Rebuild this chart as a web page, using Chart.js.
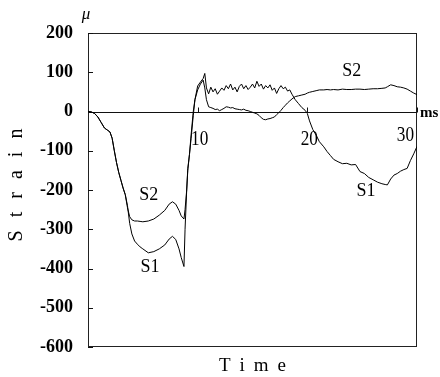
<!DOCTYPE html>
<html>
<head>
<meta charset="utf-8">
<script src="https://cdn.jsdelivr.net/npm/chart.js"></script>
<style>
html,body{margin:0;padding:0;background:#fff;}
canvas{display:block;}
</style>
</head>
<body>
<canvas id="c" width="440" height="377"></canvas>
<script>
// time in ms
const times = [
  0,0.3,0.6,0.9,1.2,1.5,1.8,2.0,2.2,2.4,
  2.6,2.8,3.0,3.2,3.4,3.6,3.8,4.0,4.25,4.5,
  4.75,5.0,5.5,6.0,6.5,7.0,7.4,7.7,8.0,8.3,
  8.5,8.75,8.85,9.0,9.1,9.25,9.4,9.6,9.75,10.0,
  10.25,10.5,10.65,
  10.8,11.0,11.2,11.4,11.6,11.8,12.0,12.2,12.4,12.6,
  12.8,13.0,13.2,13.4,13.6,13.8,14.0,14.2,14.4,14.6,
  14.8,15.0,15.2,15.4,15.6,15.8,16.0,16.2,16.4,16.6,
  16.8,17.0,17.2,17.4,17.6,17.8,18.0,18.2,18.4,18.6,
  18.9,19.2,19.5,19.8,20.0,20.2,20.5,20.8,21.1,21.5,
  21.8,22.1,22.4,22.8,23.2,23.6,24.0,24.4,24.8,25.2,
  25.6,26.0,26.4,26.8,27.1,27.3,27.6,27.9,28.2,28.5,
  28.8,29.1,29.4,29.7,30.0
];
// strain S1 (micro)
const s1 = [
  0,-1,-5,-14,-28,-42,-48,-52,-68,-100,
  -130,-155,-175,-195,-212,-240,-285,-312,-330,-338,
  -345,-350,-360,-357,-350,-340,-325,-318,-326,-350,
  -372,-395,-300,-200,-145,-110,-69,-10,30,65,
  75,84,97,
  60,45,62,50,58,44,52,60,54,66,
  58,70,55,62,50,64,70,58,66,56,
  62,70,60,77,64,70,57,66,60,68,
  54,60,46,58,66,58,62,52,55,44,
  30,20,10,3,-5,-24,-46,-60,-77,-90,
  -102,-112,-122,-128,-133,-132,-136,-135,-153,-158,
  -168,-174,-180,-184,-186,-187,-172,-162,-158,-152,
  -148,-145,-125,-108,-89
];
// strain S2 (micro)
const s2 = [
  0,-1,-5,-14,-28,-42,-48,-52,-68,-100,
  -130,-155,-175,-195,-212,-245,-268,-276,-279,-279,
  -280,-281,-279,-274,-264,-252,-236,-230,-236,-252,
  -266,-274,-250,-200,-150,-110,-60,0,30,55,
  70,80,60,
  30,12,10,8,5,6,2,5,8,12,
  11,9,10,7,6,5,4,6,3,2,
  0,-2,-4,-6,-10,-16,-20,-21,-19,-18,
  -16,-14,-8,-3,3,10,16,22,27,32,
  38,40,42,44,47,49,51,53,55,55,
  56,55,56,55,57,56,56,57,57,56,
  57,58,58,59,60,63,68,66,63,62,
  60,57,52,47,43
];
const xTickLabels = [10, 20, 30];
const yMin = -600, yMax = 200, yStep = 100;
const seriesNames = ['S1', 'S2'];

const serif = '"Liberation Serif", "DejaVu Serif", serif';

function spacedText(ctx, str, cx, cy, gap) {
  const chars = str.split('');
  const widths = chars.map(c => ctx.measureText(c).width);
  const total = widths.reduce((a, b) => a + b, 0) + gap * (chars.length - 1);
  let x = cx - total / 2;
  ctx.textAlign = 'left';
  chars.forEach((c, i) => { ctx.fillText(c, x, cy); x += widths[i] + gap; });
}

const decor = {
  id: 'decor',
  beforeDatasetsDraw(chart) {
    const {ctx, chartArea: a, scales: {x, y}} = chart;
    ctx.save();
    ctx.strokeStyle = '#222';
    ctx.lineWidth = 1;
    ctx.strokeRect(Math.round(a.left) + 0.5, Math.round(a.top) + 0.5,
                   Math.round(a.right - a.left) - 1, Math.round(a.bottom - a.top) - 1);
    // zero line
    const y0 = Math.round(y.getPixelForValue(0)) + 0.5;
    ctx.strokeStyle = '#111';
    ctx.beginPath(); ctx.moveTo(a.left, y0); ctx.lineTo(a.right, y0); ctx.stroke();
    // inner y ticks
    ctx.beginPath();
    for (let v = yMin; v <= yMax; v += yStep) {
      const py = Math.round(y.getPixelForValue(v)) + 0.5;
      ctx.moveTo(a.left, py); ctx.lineTo(a.left + 5, py);
    }
    // x ticks on zero line
    xTickLabels.forEach(t => {
      const px = Math.round(x.getPixelForValue(t)) + 0.5;
      ctx.moveTo(px, y0); ctx.lineTo(px, y0 - 5);
    });
    ctx.stroke();
    ctx.restore();
  },
  afterDraw(chart) {
    const {ctx, chartArea: a, scales: {x, y}} = chart;
    const y0 = y.getPixelForValue(0);
    ctx.save();
    ctx.fillStyle = '#000';
    ctx.textBaseline = 'middle';
    // x tick labels on the zero line
    ctx.font = '21px ' + serif;
    xTickLabels.forEach((t, i) => {
      let px = x.getPixelForValue(t);
      let align = 'center';
      let dx = 2;
      if (i === xTickLabels.length - 1) { px = a.right - 3; align = 'right'; dx = 0; }
      ctx.save();
      ctx.translate(px + dx, y0 + (i === xTickLabels.length - 1 ? 24 : 28));
      ctx.scale(0.82, 1);
      ctx.textAlign = align;
      ctx.fillText(String(t), 0, 0);
      ctx.restore();
    });
    // unit ms
    ctx.font = 'bold 15px ' + serif;
    ctx.textAlign = 'left';
    ctx.fillText('ms', a.right + 3, y0 + 2);
    // micro sign
    ctx.font = 'italic 17px ' + serif;
    ctx.textAlign = 'center';
    ctx.fillText('\u03bc', a.left - 2, a.top - 18);
    // series labels
    ctx.font = '18px ' + serif;
    ctx.textAlign = 'center';
    ctx.fillText(seriesNames[1], x.getPixelForValue(5.55), y.getPixelForValue(-213));
    ctx.fillText(seriesNames[0], x.getPixelForValue(5.65), y.getPixelForValue(-396));
    ctx.fillText(seriesNames[1], x.getPixelForValue(24.05), y.getPixelForValue(102));
    ctx.fillText(seriesNames[0], x.getPixelForValue(25.35), y.getPixelForValue(-204));
    // axis titles
    ctx.font = '19px ' + serif;
    spacedText(ctx, 'Time', (a.left + a.right) / 2, a.bottom + 19, 9);
    ctx.save();
    ctx.translate(17, (a.top + a.bottom) / 2 - 5);
    ctx.rotate(-Math.PI / 2);
    ctx.font = '20px ' + serif;
    spacedText(ctx, 'Strain', 0, 0, 13);
    ctx.restore();
    ctx.restore();
  }
};

new Chart(document.getElementById('c'), {
  type: 'line',
  data: {
    datasets: [
      { label: seriesNames[0], data: times.map((t, i) => ({x: t, y: s1[i]})),
        borderColor: '#000', borderWidth: 1, pointRadius: 0, tension: 0, fill: false },
      { label: seriesNames[1], data: times.map((t, i) => ({x: t, y: s2[i]})),
        borderColor: '#000', borderWidth: 1, pointRadius: 0, tension: 0, fill: false }
    ]
  },
  options: {
    responsive: false,
    animation: false,
    events: [],
    layout: { padding: { top: 33, right: 23, bottom: 30, left: 0 } },
    plugins: { legend: { display: false }, tooltip: { enabled: false } },
    scales: {
      x: { type: 'linear', min: 0, max: 30, display: false },
      y: {
        type: 'linear', min: yMin, max: yMax,
        grid: { display: false, drawTicks: false },
        border: { display: false },
        ticks: { stepSize: yStep, padding: 15, color: '#000',
                 font: { family: serif, size: 18, weight: 'bold' } },
        afterFit(scale) { scale.width = 88; }
      }
    }
  },
  plugins: [decor]
});
</script>
</body>
</html>
